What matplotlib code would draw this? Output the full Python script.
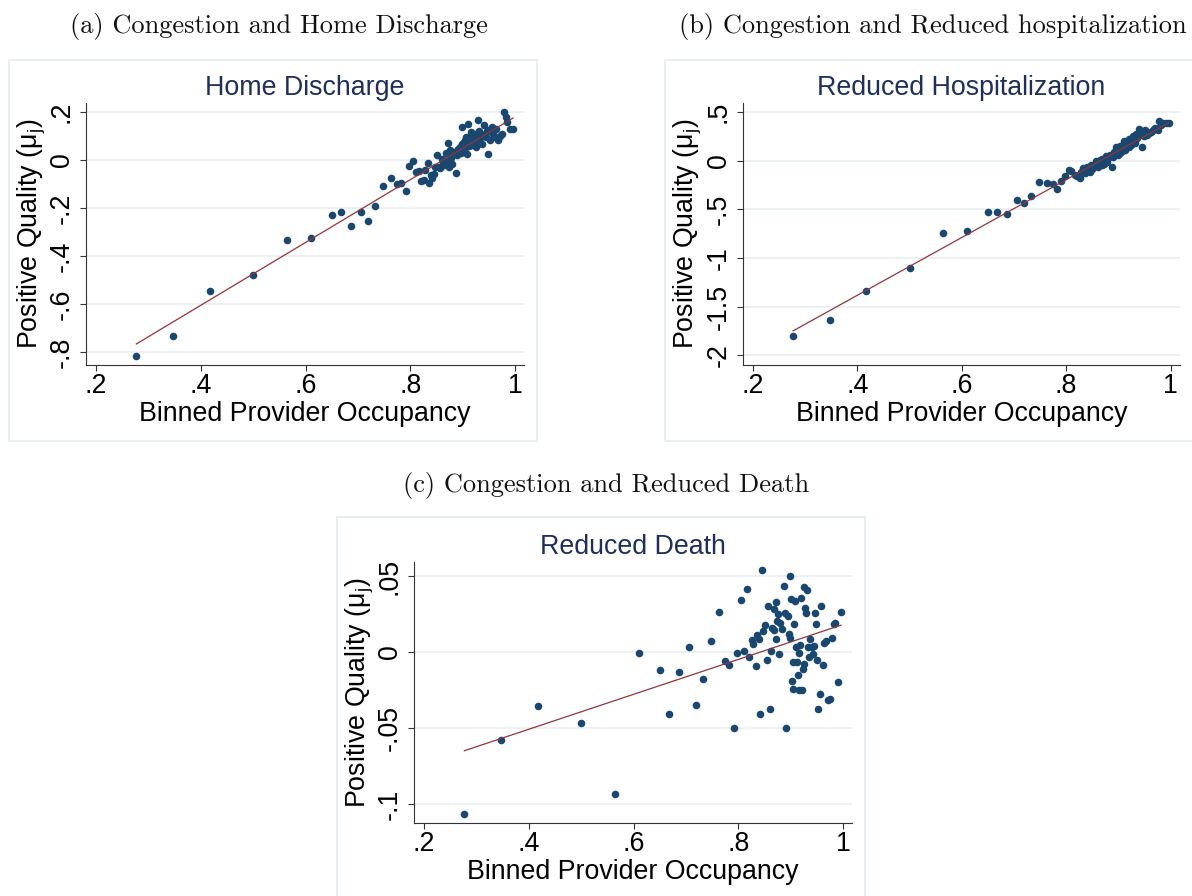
import matplotlib
matplotlib.use('Agg')
import matplotlib.pyplot as plt
from matplotlib.patches import Rectangle
import numpy as np

plt.rcParams['font.family'] = ['Liberation Sans', 'DejaVu Sans']

# ---------------- data (binned scatter) ----------------
occupancy = [0.277, 0.348, 0.417, 0.500, 0.564, 0.610, 0.651, 0.667, 0.687, 0.705,
             0.720, 0.733, 0.747, 0.763, 0.775, 0.783, 0.791, 0.797, 0.805, 0.810,
             0.816, 0.820, 0.826, 0.828, 0.833, 0.836, 0.839, 0.842, 0.845, 0.847,
             0.850, 0.854, 0.857, 0.860, 0.862, 0.865, 0.868, 0.869, 0.871, 0.872,
             0.874, 0.876, 0.878, 0.880, 0.884, 0.887, 0.890, 0.891, 0.894, 0.896,
             0.898, 0.899, 0.901, 0.903, 0.904, 0.905, 0.907, 0.909, 0.911, 0.912,
             0.913, 0.915, 0.916, 0.918, 0.920, 0.921, 0.923, 0.925, 0.926, 0.928,
             0.930, 0.931, 0.933, 0.935, 0.937, 0.940, 0.942, 0.945, 0.947, 0.949,
             0.951, 0.953, 0.955, 0.958, 0.962, 0.964, 0.968, 0.971, 0.975, 0.978,
             0.982, 0.985, 0.991, 0.996]

home_discharge = [-0.815, -0.732, -0.544, -0.479, -0.334, -0.323, -0.228, -0.217, -0.277, -0.217,
                  -0.255, -0.191, -0.110, -0.074, -0.102, -0.097, -0.128, -0.023, -0.003, -0.048,
                  -0.045, -0.088, -0.083, -0.041, -0.011, -0.095, -0.062, -0.076, -0.060, -0.030,
                  0.021, -0.028, -0.035, 0.005, -0.010, -0.021, -0.005, 0.030, 0.069, 0.028,
                  -0.030, 0.041, 0.010, -0.015, 0.034, -0.055, 0.020, 0.045, 0.055, 0.030,
                  0.138, 0.065, 0.040, 0.075, 0.083, 0.050, 0.095, 0.025, 0.152, 0.060,
                  0.097, 0.080, 0.115, 0.062, 0.090, 0.070, 0.110, 0.100, 0.055, 0.075,
                  0.166, 0.120, 0.090, 0.100, 0.068, 0.145, 0.110, 0.095, 0.120, 0.025,
                  0.124, 0.085, 0.138, 0.110, 0.097, 0.131, 0.083, 0.100, 0.110, 0.200,
                  0.179, 0.159, 0.131, 0.131]

reduced_hosp = [-1.798, -1.633, -1.338, -1.105, -0.741, -0.721, -0.525, -0.525, -0.549, -0.409,
                -0.436, -0.364, -0.217, -0.227, -0.241, -0.292, -0.206, -0.160, -0.093, -0.110,
                -0.150, -0.160, -0.179, -0.120, -0.070, -0.130, -0.060, -0.110, -0.120, -0.040,
                -0.085, -0.050, 0.000, -0.060, -0.030, 0.010, -0.045, 0.017, -0.010, -0.030,
                0.020, 0.051, -0.015, 0.030, 0.060, -0.066, 0.040, 0.085, 0.070, 0.136,
                0.100, 0.060, 0.110, 0.080, 0.150, 0.120, 0.095, 0.140, 0.204, 0.110,
                0.170, 0.130, 0.150, 0.190, 0.140, 0.221, 0.180, 0.160, 0.200, 0.255,
                0.210, 0.185, 0.272, 0.230, 0.250, 0.323, 0.280, 0.140, 0.300, 0.250,
                0.320, 0.290, 0.260, 0.289, 0.300, 0.310, 0.330, 0.340, 0.320, 0.408,
                0.370, 0.390, 0.391, 0.385]

reduced_death = [-0.1064, -0.0577, -0.0356, -0.0466, -0.0932, -0.0006, -0.0117, -0.0406, -0.0133, 0.0031,
                 -0.0352, -0.0175, 0.0075, 0.0266, -0.0058, -0.0085, -0.0503, -0.0008, 0.0340, 0.0007,
                 0.0412, -0.0034, 0.0078, 0.0051, -0.0091, 0.0110, 0.0086, -0.0406, 0.0537, 0.0135,
                 0.0176, -0.0052, 0.0300, -0.0378, 0.0007, 0.0159, 0.0284, 0.0146, 0.0084, 0.0328,
                 0.0202, 0.0248, -0.0015, 0.0191, 0.0154, 0.0434, 0.0255, -0.0503, 0.0240, 0.0117,
                 0.0498, 0.0093, 0.0349, -0.0190, -0.0063, -0.0243, 0.0185, 0.0334, 0.0034, -0.0063,
                 -0.0152, -0.0247, -0.0006, 0.0049, 0.0356, -0.0249, -0.0110, 0.0430, -0.0078, 0.0292,
                 0.0259, 0.0406, 0.0036, -0.0030, 0.0086, 0.0036, -0.0010, 0.0042, 0.0255, 0.0183,
                 -0.0052, -0.0374, -0.0275, 0.0300, -0.0085, 0.0060, 0.0075, -0.0314, -0.0308, 0.0093,
                 0.0185, 0.0191, -0.0196, 0.0261]

# linear fit lines (intercept, slope)
fit_home = (-1.129, 1.309)
fit_hosp = (-2.572, 2.971)
fit_death = (-0.0968, 0.1149)

x_ticks = [0.2, 0.4, 0.6, 0.8, 1.0]
x_ticklabels = ['.2', '.4', '.6', '.8', '1']
home_yticks = [-0.8, -0.6, -0.4, -0.2, 0.0, 0.2]
home_yticklabels = ['-.8', '-.6', '-.4', '-.2', '0', '.2']
hosp_yticks = [-2.0, -1.5, -1.0, -0.5, 0.0, 0.5]
hosp_yticklabels = ['-2', '-1.5', '-1', '-.5', '0', '.5']
death_yticks = [-0.1, -0.05, 0.0, 0.05]
death_yticklabels = ['-.1', '-.05', '0', '.05']

titles = ['Home Discharge', 'Reduced Hospitalization', 'Reduced Death']
captions = ['(a) Congestion and Home Discharge',
            '(b) Congestion and Reduced hospitalization',
            '(c) Congestion and Reduced Death']
xlabel = 'Binned Provider Occupancy'
ylabel = 'Positive Quality (μ$_\\mathregular{j}$)'

# ---------------- styling ----------------
W, H = 1192, 896
DOT = '#1a476f'
LINE = '#90353b'
TITLE_C = '#1f2f5a'
GRID_C = '#e9f0f2'
BOX_C = '#e3ebee'
FS = 19.3

fig = plt.figure(figsize=(W / 100, H / 100), dpi=100)
fig.patch.set_facecolor('white')


def rect(l, t, r, b):
    return [l / W, 1 - b / H, (r - l) / W, (b - t) / H]


# outer graph-region boxes
for (l, t, r, b) in [(9, 60, 537, 441), (665, 60, 1200, 441), (337, 517, 865, 905)]:
    fig.add_artist(Rectangle((l / W, 1 - b / H), (r - l) / W, (b - t) / H,
                             transform=fig.transFigure, facecolor='none',
                             edgecolor=BOX_C, linewidth=1.2, zorder=-5))

# captions
for txt, cx, cy in zip(captions, [279, 933, 606], [27, 27, 485]):
    fig.text(cx / W, 1 - cy / H, txt, family='cmr10', fontsize=19,
             ha='center', va='center', color='#111111')

panels = [
    (rect(86, 103, 524, 365), home_discharge, fit_home, home_yticks, home_yticklabels,
     (0.181, 1.017), (-0.854, 0.2375)),
    (rect(743, 103, 1180, 365), reduced_hosp, fit_hosp, hosp_yticks, hosp_yticklabels,
     (0.181, 1.018), (-2.10, 0.593)),
    (rect(414, 562, 852, 823), reduced_death, fit_death, death_yticks, death_yticklabels,
     (0.181, 1.017), (-0.1125, 0.0592)),
]

for i, (pos, yvals, fit, yt, ytl, xl, yl) in enumerate(panels):
    ax = fig.add_axes(pos)
    ax.set_zorder(2)
    ax.patch.set_alpha(0)
    ax.set_xlim(*xl)
    ax.set_ylim(*yl)
    for yv in yt:
        ax.axhline(yv, color=GRID_C, linewidth=1.3, zorder=0)
    ax.scatter(occupancy, yvals, s=30, color=DOT, linewidths=0, zorder=3)
    xx = np.array([min(occupancy), max(occupancy)])
    ax.plot(xx, fit[0] + fit[1] * xx, color=LINE, linewidth=0.9, zorder=4)

    ax.set_xticks(x_ticks)
    ax.set_xticklabels(x_ticklabels, fontsize=FS)
    ax.set_yticks(yt)
    ax.set_yticklabels(ytl, fontsize=FS, rotation=90, va='center')
    ax.tick_params(axis='both', direction='out', length=4, width=0.8, color='#333333')
    ax.tick_params(axis='x', pad=2)
    ax.tick_params(axis='y', pad=4)
    for s in ['top', 'right']:
        ax.spines[s].set_visible(False)
    for s in ['left', 'bottom']:
        ax.spines[s].set_color('#333333')
        ax.spines[s].set_linewidth(0.8)
    ax.set_xlabel(xlabel, fontsize=FS, labelpad=1)
    ax.set_ylabel(ylabel, fontsize=FS, labelpad=1)
    ax.set_title(titles[i], fontsize=FS, color=TITLE_C, pad=6)

fig.savefig('out.png', dpi=100, facecolor='white')
